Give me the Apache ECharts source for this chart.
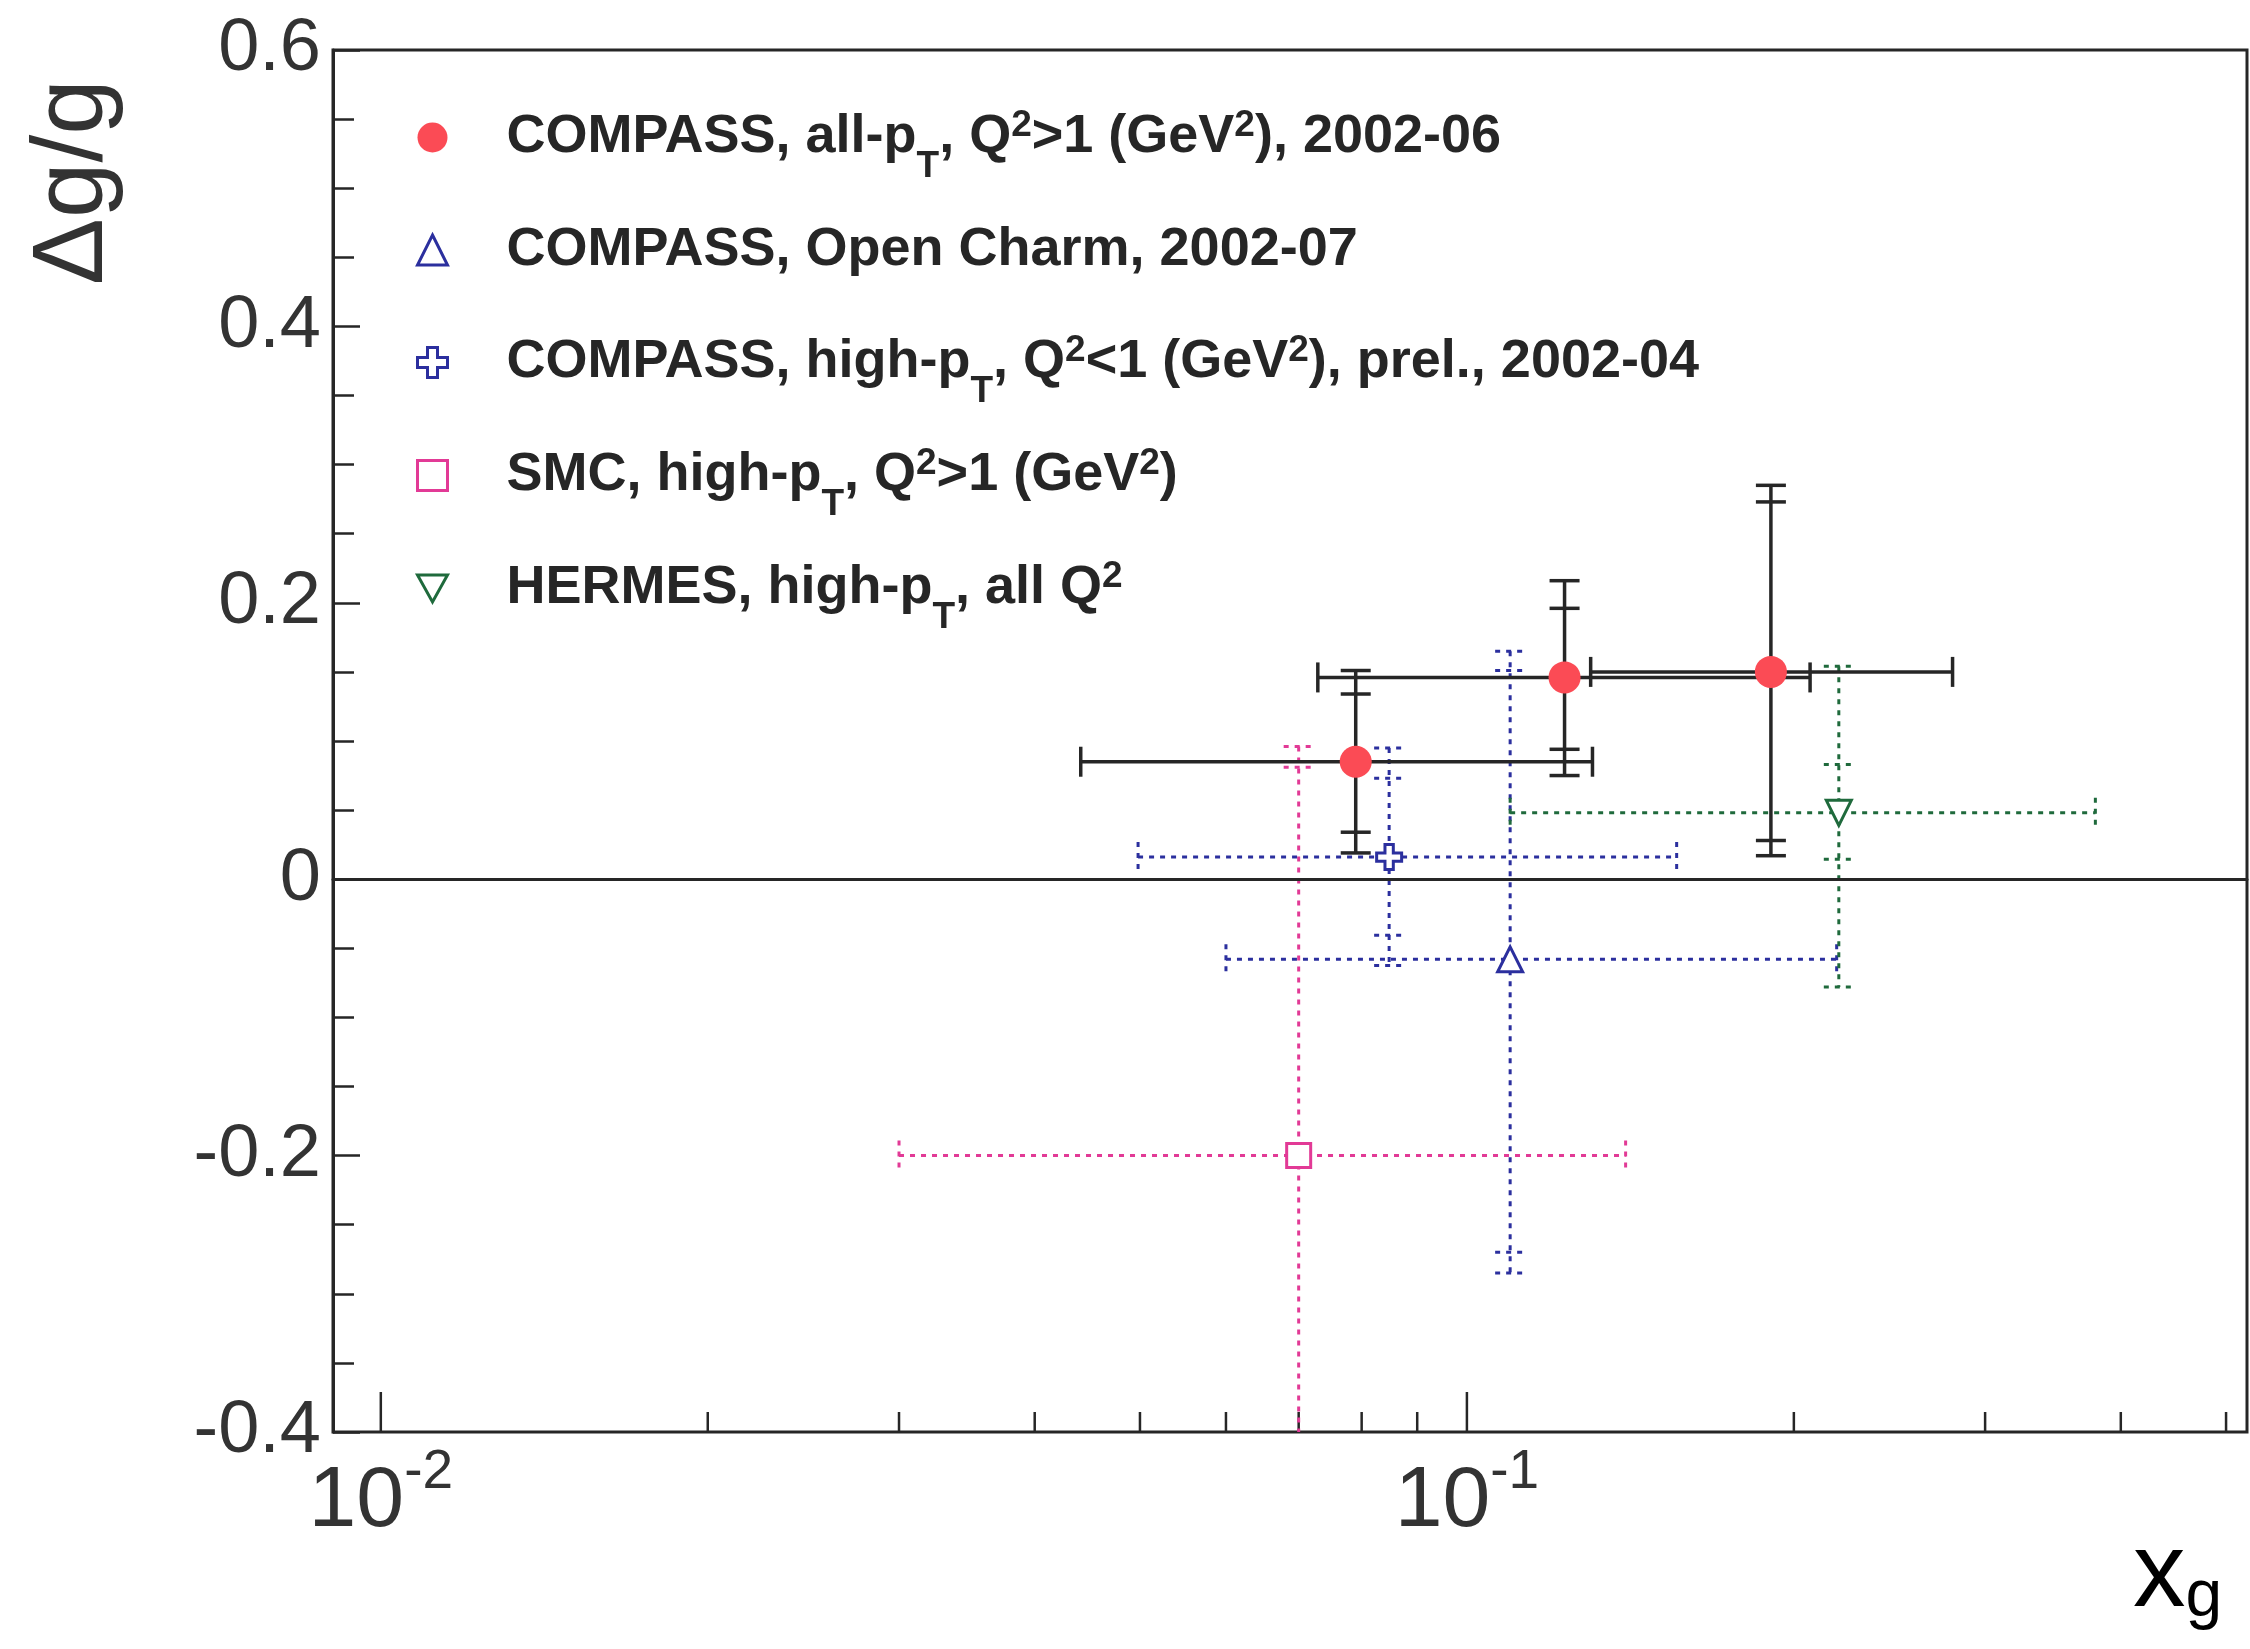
<!DOCTYPE html>
<html>
<head>
<meta charset="utf-8">
<script src="https://cdn.jsdelivr.net/npm/echarts@6/dist/echarts.min.js"></script>
<style>
  html, body { margin: 0; padding: 0; background: #ffffff; }
  #chart { width: 2250px; height: 1649px; }
</style>
</head>
<body>
<div id="chart"></div>
<script>
const FONT = '"Liberation Sans", Arial, Helvetica, sans-serif';

// axis ranges
const xAxisMin = 0.009036;
const xAxisMax = 0.5227;
const yAxisMin = -0.4;
const yAxisMax = 0.6;
const xTickValues = [0.01, 0.02, 0.03, 0.04, 0.05, 0.06, 0.07, 0.08, 0.09, 0.1, 0.2, 0.3, 0.4, 0.5];

// COMPASS, all-pT, Q2>1, 2002-06
const allPtX = [0.079, 0.123, 0.1905];
const allPtY = [0.085, 0.146, 0.150];
const allPtXLow = [0.0441, 0.0729, 0.130];
const allPtXHigh = [0.1305, 0.207, 0.280];
const allPtStatLow = [0.034, 0.094, 0.028];
const allPtStatHigh = [0.134, 0.196, 0.273];
const allPtTotLow = [0.019, 0.075, 0.017];
const allPtTotHigh = [0.151, 0.216, 0.285];

// COMPASS, Open Charm, 2002-07
const charmX = [0.1096];
const charmY = [-0.058];
const charmXLow = [0.060];
const charmXHigh = [0.219];
const charmStatLow = [-0.270];
const charmStatHigh = [0.151];
const charmTotLow = [-0.285];
const charmTotHigh = [0.165];

// COMPASS, high-pT, Q2<1, prel., 2002-04
const highPtX = [0.0848];
const highPtY = [0.016];
const highPtXLow = [0.0498];
const highPtXHigh = [0.156];
const highPtStatLow = [-0.0405];
const highPtStatHigh = [0.073];
const highPtTotLow = [-0.0625];
const highPtTotHigh = [0.095];

// SMC, high-pT, Q2>1
const smcX = [0.070];
const smcY = [-0.200];
const smcXLow = [0.030];
const smcXHigh = [0.140];
const smcStatLow = [-0.481];
const smcStatHigh = [0.081];
const smcTotLow = [-0.496];
const smcTotHigh = [0.096];

// HERMES, high-pT, all Q2
const hermesX = [0.220];
const hermesY = [0.048];
const hermesXLow = [0.1096];
const hermesXHigh = [0.379];
const hermesStatLow = [0.0145];
const hermesStatHigh = [0.083];
const hermesTotLow = [-0.078];
const hermesTotHigh = [0.154];

const seriesNames = [
    'COMPASS, all-pT, Q2>1 (GeV2), 2002-06',
    'COMPASS, Open Charm, 2002-07',
    'COMPASS, high-pT, Q2<1 (GeV2), prel., 2002-04',
    'SMC, high-pT, Q2>1 (GeV2)',
    'HERMES, high-pT, all Q2'
];
const legendLabels = [
    '{gap|}{t|COMPASS, all-p}{sub|T}{t|, Q}{sup|2}{t|>1 (GeV}{sup|2}{t|), 2002-06}',
    '{gap|}{t|COMPASS, Open Charm, 2002-07}',
    '{gap|}{t|COMPASS, high-p}{sub|T}{t|, Q}{sup|2}{t|<1 (GeV}{sup|2}{t|), prel., 2002-04}',
    '{gap|}{t|SMC, high-p}{sub|T}{t|, Q}{sup|2}{t|>1 (GeV}{sup|2}{t|)}',
    '{gap|}{t|HERMES, high-p}{sub|T}{t|, all Q}{sup|2}'
];

const RED = '#fb4b55';
const BLUE = '#2b2f9e';
const MAGENTA = '#e23a96';
const GREEN = '#1f6a3c';
const INK = '#262626';

const crossPath = 'path://M-1,-3L1,-3L1,-1L3,-1L3,1L1,1L1,3L-1,3L-1,1L-3,1L-3,-1L-1,-1Z';
const downTriPath = 'path://M0,0L10,0L5,9Z';

const zipPoints = (xs, ys) => xs.map((x, i) => [x, ys[i]]);
const zipErrors = (xs, ys, xl, xh, sl, sh, tl, th) =>
    xs.map((x, i) => [x, ys[i], xl[i], xh[i], sl[i], sh[i], tl[i], th[i]]);

const errorRenderer = (color, dash, width) => (params, api) => {
    const cs = params.coordSys;
    const top = cs.y, bottom = cs.y + cs.height;
    const x = api.value(0), y = api.value(1);
    const c = api.coord([x, y]);
    const xl = api.coord([api.value(2), y])[0];
    const xh = api.coord([api.value(3), y])[0];
    const yCaps = [4, 5, 6, 7].map(d => api.coord([x, api.value(d)])[1]);
    const cap = 15;
    const kids = [];
    const line = (x1, y1, x2, y2) => kids.push({
        type: 'line',
        shape: {x1, y1, x2, y2},
        style: {stroke: color, lineWidth: width, lineDash: dash, fill: null}
    });
    line(xl, c[1], xh, c[1]);
    const yTop = Math.max(Math.min(...yCaps), top);
    const yBot = Math.min(Math.max(...yCaps), bottom);
    line(c[0], yTop, c[0], yBot);
    line(xl, c[1] - cap, xl, c[1] + cap);
    line(xh, c[1] - cap, xh, c[1] + cap);
    yCaps.forEach(py => {
        if (py >= top && py <= bottom) line(c[0] - cap, py, c[0] + cap, py);
    });
    return {type: 'group', children: kids};
};

const tickRenderer = (params, api) => {
    const cs = params.coordSys;
    const v = api.value(0);
    const lg = Math.log10(v);
    const major = Math.abs(lg - Math.round(lg)) < 1e-9;
    const px = api.coord([v, 0])[0];
    const py = cs.y + cs.height;
    return {
        type: 'line',
        shape: {x1: px, y1: py, x2: px, y2: py - (major ? 40 : 20)},
        style: {stroke: INK, lineWidth: 2.5}
    };
};

const dotted = [5, 6];

const chart = echarts.init(document.getElementById('chart'));

const option = {
    animation: false,
    backgroundColor: '#ffffff',
    grid: {
        left: 333, top: 50, right: -4, bottom: 217,
        show: true, borderColor: INK, borderWidth: 3, backgroundColor: 'transparent'
    },
    legend: {
        orient: 'vertical',
        left: 416,
        top: 90,
        padding: 0,
        itemGap: 18,
        itemWidth: 30,
        itemHeight: 30,
        selectedMode: false,
        data: [
            {name: seriesNames[0], itemStyle: {borderWidth: 0}},
            {name: seriesNames[1], itemStyle: {borderWidth: 3}},
            {name: seriesNames[2], itemStyle: {borderWidth: 3}},
            {name: seriesNames[3], itemStyle: {borderWidth: 3}},
            {name: seriesNames[4], itemStyle: {borderWidth: 3}}
        ],
        formatter: name => legendLabels[seriesNames.indexOf(name)],
        textStyle: {
            color: INK,
            fontFamily: FONT,
            fontSize: 54,
            fontWeight: 'bold',
            lineHeight: 94,
            rich: {
                gap: {width: 54, lineHeight: 94},
                t: {fontFamily: FONT, fontSize: 54, fontWeight: 'bold', color: INK, lineHeight: 94},
                sup: {fontFamily: FONT, fontSize: 37, fontWeight: 'bold', color: INK, lineHeight: 37, padding: [0, 0, 24, 0]},
                sub: {fontFamily: FONT, fontSize: 37, fontWeight: 'bold', color: INK, lineHeight: 36, padding: [58, 0, 0, 0]}
            }
        }
    },
    xAxis: {
        type: 'log',
        logBase: 10,
        min: xAxisMin,
        max: xAxisMax,
        axisLine: {show: true, lineStyle: {color: INK, width: 3}},
        axisTick: {show: false},
        minorTick: {show: false},
        splitLine: {show: false},
        axisLabel: {
            margin: 27,
            color: '#333',
            formatter: v => {
                const lg = Math.log10(v);
                if (Math.abs(lg - Math.round(lg)) > 1e-6) return '';
                return '{b|10}{s|' + Math.round(lg) + '}';
            },
            rich: {
                b: {fontFamily: FONT, fontSize: 86, color: '#333', lineHeight: 86},
                s: {fontFamily: FONT, fontSize: 55, color: '#333', lineHeight: 55, padding: [0, 0, 58, 0]}
            }
        }
    },
    yAxis: {
        type: 'value',
        min: yAxisMin,
        max: yAxisMax,
        interval: 0.2,
        axisLine: {show: true, lineStyle: {color: INK, width: 3}},
        axisTick: {show: true, inside: true, length: 27, lineStyle: {color: INK, width: 2.5}},
        minorTick: {show: true, splitNumber: 4, length: 21, lineStyle: {color: INK, width: 2.5}},
        splitLine: {show: false},
        axisLabel: {
            margin: 12,
            fontFamily: FONT,
            fontSize: 74,
            color: '#333',
            formatter: v => (Math.abs(v) < 1e-9 ? '0' : v.toFixed(1))
        }
    },
    graphic: [
        {
            type: 'text',
            x: 74, y: 182,
            rotation: Math.PI / 2,
            style: {
                text: 'Δg/g', fontFamily: FONT, fontSize: 100, fill: '#333',
                align: 'center', verticalAlign: 'middle'
            }
        },
        {
            type: 'text',
            x: 2133, y: 1525,
            style: {
                text: '{x|x}{g|g}',
                align: 'left', verticalAlign: 'top',
                rich: {
                    x: {fontFamily: FONT, fontSize: 105, color: '#333', lineHeight: 105},
                    g: {fontFamily: FONT, fontSize: 66, color: '#333', lineHeight: 66, padding: [40, 0, 0, 0]}
                }
            }
        }
    ],
    series: [
        {
            type: 'custom',
            renderItem: tickRenderer,
            data: xTickValues.map(v => [v, 0]),
            z: 1,
            silent: true,
            markLine: {
                silent: true,
                symbol: 'none',
                label: {show: false},
                lineStyle: {color: INK, width: 3, type: 'solid'},
                data: [{yAxis: 0}]
            }
        },
        {type: 'custom', renderItem: errorRenderer(MAGENTA, dotted, 3), z: 2, silent: true,
            data: zipErrors(smcX, smcY, smcXLow, smcXHigh, smcStatLow, smcStatHigh, smcTotLow, smcTotHigh)},
        {type: 'custom', renderItem: errorRenderer(BLUE, dotted, 3), z: 2, silent: true,
            data: zipErrors(charmX, charmY, charmXLow, charmXHigh, charmStatLow, charmStatHigh, charmTotLow, charmTotHigh)},
        {type: 'custom', renderItem: errorRenderer(BLUE, dotted, 3), z: 2, silent: true,
            data: zipErrors(highPtX, highPtY, highPtXLow, highPtXHigh, highPtStatLow, highPtStatHigh, highPtTotLow, highPtTotHigh)},
        {type: 'custom', renderItem: errorRenderer(GREEN, dotted, 3), z: 2, silent: true,
            data: zipErrors(hermesX, hermesY, hermesXLow, hermesXHigh, hermesStatLow, hermesStatHigh, hermesTotLow, hermesTotHigh)},
        {type: 'custom', renderItem: errorRenderer(INK, null, 3.5), z: 3, silent: true,
            data: zipErrors(allPtX, allPtY, allPtXLow, allPtXHigh, allPtStatLow, allPtStatHigh, allPtTotLow, allPtTotHigh)},
        {
            name: seriesNames[0], type: 'scatter', z: 5,
            symbol: 'circle', symbolSize: 32,
            itemStyle: {color: RED, opacity: 1},
            data: zipPoints(allPtX, allPtY)
        },
        {
            name: seriesNames[1], type: 'scatter', z: 5,
            symbol: 'triangle', symbolSize: 25,
            itemStyle: {color: '#ffffff', borderColor: BLUE, borderWidth: 3, opacity: 1},
            data: zipPoints(charmX, charmY)
        },
        {
            name: seriesNames[2], type: 'scatter', z: 5,
            symbol: crossPath, symbolSize: 25,
            itemStyle: {color: '#ffffff', borderColor: BLUE, borderWidth: 3, opacity: 1},
            data: zipPoints(highPtX, highPtY)
        },
        {
            name: seriesNames[3], type: 'scatter', z: 5,
            symbol: 'rect', symbolSize: 24,
            itemStyle: {color: '#ffffff', borderColor: MAGENTA, borderWidth: 3, opacity: 1},
            data: zipPoints(smcX, smcY)
        },
        {
            name: seriesNames[4], type: 'scatter', z: 5,
            symbol: downTriPath, symbolSize: 25,
            itemStyle: {color: '#ffffff', borderColor: GREEN, borderWidth: 3, opacity: 1},
            data: zipPoints(hermesX, hermesY)
        }
    ]
};

chart.setOption(option);
</script>
</body>
</html>
